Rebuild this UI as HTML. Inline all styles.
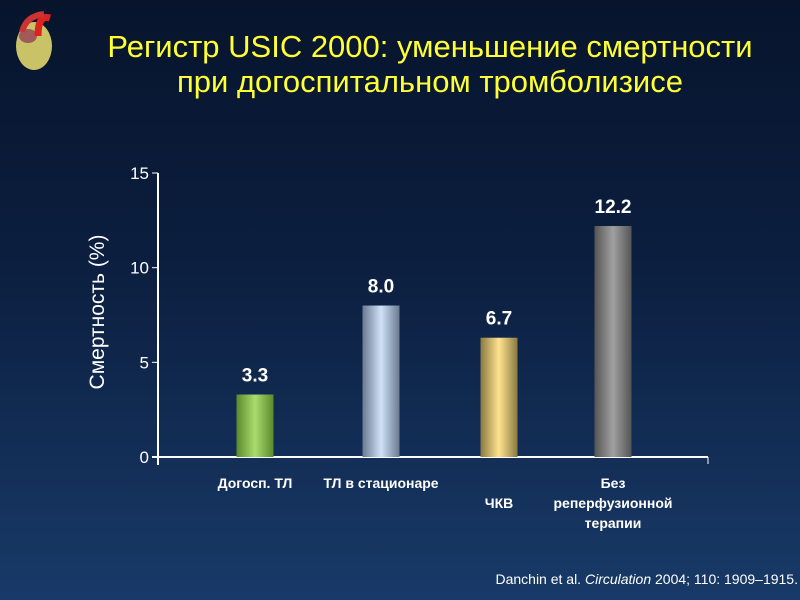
<!DOCTYPE html>
<html><head><meta charset="utf-8"><style>
body{margin:0;width:800px;height:600px;overflow:hidden;background:linear-gradient(#07142c 0%,#0c1f40 45%,#183a68 100%);font-family:"Liberation Sans",sans-serif;}
#t{position:absolute;left:60px;width:740px;top:29px;text-align:center;color:#ffff33;font-size:31px;line-height:35px;}
#c{position:absolute;left:0;top:0}
#ref{position:absolute;right:2px;top:571px;color:#fff;font-size:14px;font-family:"Liberation Sans Narrow","Liberation Sans",sans-serif;}
</style></head><body>
<div id="heart" style="position:absolute;left:8px;top:6px;width:52px;height:66px">
<svg width="52" height="66"><ellipse cx="26" cy="40" rx="18" ry="24" fill="#c9c266"/><ellipse cx="20" cy="30" rx="9" ry="7" fill="#a05a5a"/><path d="M30 30 Q30 8 42 12" stroke="#d22" stroke-width="7" fill="none"/><path d="M14 26 Q18 10 36 8" stroke="#c33" stroke-width="6" fill="none"/></svg></div>
<div id="t">Регистр USIC 2000: уменьшение смертности<br>при догоспитальном тромболизисе</div>
<svg id="c" width="800" height="600">
<defs>
<linearGradient id="g0"><stop offset="0" stop-color="#5a8a2a"/><stop offset=".5" stop-color="#a8dc70"/><stop offset="1" stop-color="#5a8a2a"/></linearGradient>
<linearGradient id="g1"><stop offset="0" stop-color="#6a7a90"/><stop offset=".5" stop-color="#cfe2f6"/><stop offset="1" stop-color="#6a7a90"/></linearGradient>
<linearGradient id="g2"><stop offset="0" stop-color="#8a7a40"/><stop offset=".5" stop-color="#ffe290"/><stop offset="1" stop-color="#8a7a40"/></linearGradient>
<linearGradient id="g3"><stop offset="0" stop-color="#555"/><stop offset=".5" stop-color="#a0a0a0"/><stop offset="1" stop-color="#555"/></linearGradient>
</defs>
<g id="plot"></g>
</svg>
<div id="ref">Danchin et al. <i>Circulation</i> 2004; 110: 1909–1915.</div>
<script>
const categories=[["Догосп. ТЛ"],["ТЛ в стационаре"],["","ЧКВ"],["Без","реперфузионной","терапии"]];
const values=[3.3,8.0,6.3,12.2];
const valueLabels=["3.3","8.0","6.7","12.2"];
const yTicks=[0,5,10,15];
const ns="http://www.w3.org/2000/svg";
const g=document.getElementById('plot');
const x0=158,x1=708,yb=457,yt=173,ymax=15;
const y=v=>yb-(yb-yt)*v/ymax;
const centers=[255,381,499,613];
const xc=i=>centers[i];
function mk(tag,a){const e=document.createElementNS(ns,tag);for(const k in a)e.setAttribute(k,a[k]);g.appendChild(e);return e;}
let e=mk('line',{x1:x0,y1:yt,x2:x0,y2:yb+8,stroke:'#fff','stroke-width':2});


e=mk('line',{x1:x0-6,y1:yb,x2:x1,y2:yb,stroke:'#fff','stroke-width':2});


mk('line',{x1:x1,y1:yb,x2:x1,y2:yb+7,stroke:'#fff','stroke-width':1});
yTicks.forEach(v=>{
 mk('line',{x1:x0-6,y1:y(v),x2:x0,y2:y(v),stroke:'#fff','stroke-width':1});
 const t=mk('text',{x:x0-9,y:y(v)+6,fill:'#fff','font-size':17,'text-anchor':'end','font-family':'Liberation Sans Narrow, Liberation Sans, sans-serif'});
 t.textContent=v;
 
 
});
const yl=mk('text',{x:0,y:0,fill:'#fff','font-size':21,'text-anchor':'middle',transform:'translate(104,312) rotate(-90)'});
yl.textContent='Смертность  (%)';


values.forEach((v,i)=>{
 const w=37,cx=xc(i);
 const r=mk('rect',{x:cx-w/2,y:y(v),width:w,height:yb-y(v),fill:'url(#g'+i+')'});
 
 
 const t=mk('text',{x:cx,y:y(v)-13,fill:'#fff','font-size':19,'font-weight':'bold','text-anchor':'middle','font-family':'Liberation Sans Narrow, Liberation Sans, sans-serif'});
 t.textContent=valueLabels[i];
 
 
 categories[i].forEach((s,j)=>{
  const c=mk('text',{x:cx,y:488+j*20,fill:'#fff','font-size':14,'font-weight':'bold','text-anchor':'middle','font-family':'Liberation Sans Narrow, Liberation Sans, sans-serif'});
  c.textContent=s;
  
  
 });
});
</script>
</body></html>
